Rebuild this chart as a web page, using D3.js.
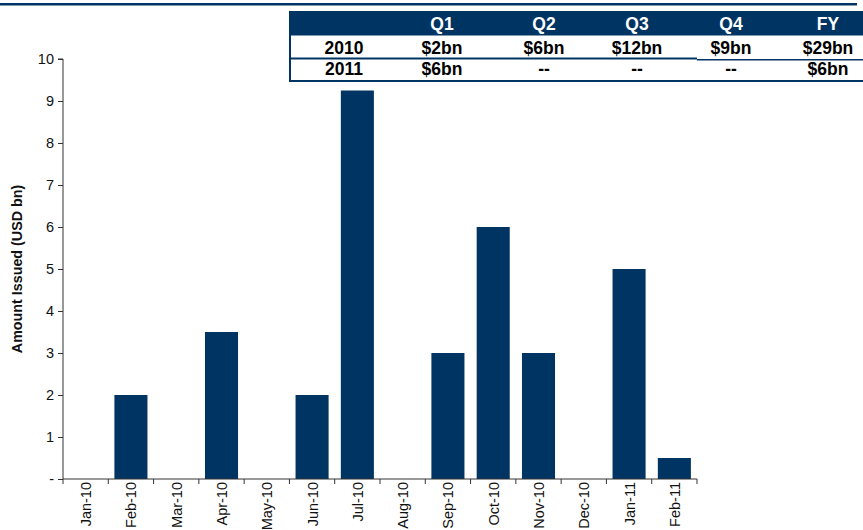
<!DOCTYPE html>
<html>
<head>
<meta charset="utf-8">
<script src="https://cdn.jsdelivr.net/npm/d3@7"></script>
<style>
  html, body { margin: 0; padding: 0; background: #fff; }
  svg { display: block; font-family: Arial, "Liberation Sans", sans-serif; }
</style>
</head>
<body>
<svg id="chart" width="863" height="530"></svg>
<script>
// Monthly issuance (USD bn)
const months = ["Jan-10","Feb-10","Mar-10","Apr-10","May-10","Jun-10","Jul-10","Aug-10","Sep-10","Oct-10","Nov-10","Dec-10","Jan-11","Feb-11"];
const amounts = [0, 2, 0, 3.5, 0, 2, 9.25, 0, 3, 6, 3, 0, 5, 0.5];
const yTicks = [0,1,2,3,4,5,6,7,8,9,10];

// Quarterly summary table
const tableHeader = ["", "Q1", "Q2", "Q3", "Q4", "FY"];
const row2010 = ["2010", "$2bn", "$6bn", "$12bn", "$9bn", "$29bn"];
const row2011 = ["2011", "$6bn", "--", "--", "--", "$6bn"];

const navy = "#003462";
const svg = d3.select("#chart");

// Rule across the top
svg.append("rect").attr("x", 0).attr("y", 3).attr("width", 857).attr("height", 2.5).attr("fill", navy);

// Plot area
const plot = { left: 63, right: 697, top: 59, bottom: 479 };

const x = d3.scaleBand().domain(months).range([plot.left, plot.right]).paddingInner(0.27).paddingOuter(0.135);
const y = d3.scaleLinear().domain([0, 10]).range([plot.bottom, plot.top]);

// Bars
svg.append("g").selectAll("rect").data(months.map((m, i) => ({ m, v: amounts[i] }))).join("rect")
  .attr("x", d => x(d.m))
  .attr("y", d => y(d.v))
  .attr("width", x.bandwidth())
  .attr("height", d => y(0) - y(d.v))
  .attr("fill", navy);

// Y axis
const yAxis = d3.axisLeft(y).tickValues(yTicks).tickSize(5).tickPadding(4)
  .tickFormat(d => d === 0 ? "-" : d3.format("d")(d));
const gy = svg.append("g").attr("transform", `translate(${plot.left},0)`).call(yAxis);
gy.select(".domain").attr("d", `M-5,${plot.top}H0V${plot.bottom}`).attr("stroke", "#333");
gy.selectAll(".tick line").attr("stroke", "#333");
gy.selectAll(".tick text").attr("font-size", 14.5).attr("fill", "#111").attr("font-family", "Arial, 'Liberation Sans', sans-serif");

// X axis: baseline with ticks between categories
const gx = svg.append("g");
gx.append("line").attr("x1", plot.left).attr("x2", plot.right).attr("y1", plot.bottom).attr("y2", plot.bottom).attr("stroke", "#333");
const boundaries = d3.range(months.length + 1).map(i => plot.left + (plot.right - plot.left) * i / months.length);
gx.selectAll("line.tk").data(boundaries).join("line").attr("class", "tk")
  .attr("x1", d => d).attr("x2", d => d)
  .attr("y1", plot.bottom).attr("y2", plot.bottom + 5).attr("stroke", "#333");
gx.selectAll("text").data(months).join("text")
  .attr("transform", d => `translate(${x(d) + x.bandwidth() / 2 + 5.5},${plot.bottom + 3}) rotate(-90)`)
  .attr("text-anchor", "end")
  .attr("font-size", 14.5)
  .attr("fill", "#111")
  .text(d => d);

// Y axis title
svg.append("text")
  .attr("transform", `translate(21.5,${(plot.top + plot.bottom) / 2}) rotate(-90)`)
  .attr("text-anchor", "middle")
  .attr("font-size", 14.3)
  .attr("font-weight", "bold")
  .attr("fill", "#111")
  .text("Amount Issued (USD bn)");

// Summary table
const tbl = svg.append("g");
const colX = [344, 442, 544, 637, 731, 828];
tbl.append("rect").attr("x", 289).attr("y", 11).attr("width", 574).attr("height", 24.5).attr("fill", navy);
tbl.append("rect").attr("x", 289).attr("y", 35).attr("width", 2).attr("height", 47).attr("fill", navy);
tbl.append("rect").attr("x", 289).attr("y", 57.5).attr("width", 408).attr("height", 2).attr("fill", navy);
tbl.append("rect").attr("x", 697).attr("y", 59).attr("width", 166).attr("height", 1.5).attr("fill", navy);
tbl.append("rect").attr("x", 289).attr("y", 80).attr("width", 574).attr("height", 2).attr("fill", navy);

function row(values, yPos, color) {
  tbl.append("g").selectAll("text").data(values).join("text")
    .attr("x", (d, i) => colX[i])
    .attr("y", yPos)
    .attr("text-anchor", "middle")
    .attr("font-size", 17.5)
    .attr("font-weight", "bold")
    .attr("fill", color)
    .text(d => d);
}
row(tableHeader, 29.5, "#fff");
row(row2010, 53.5, "#000");
row(row2011, 75, "#000");
</script>
</body>
</html>
